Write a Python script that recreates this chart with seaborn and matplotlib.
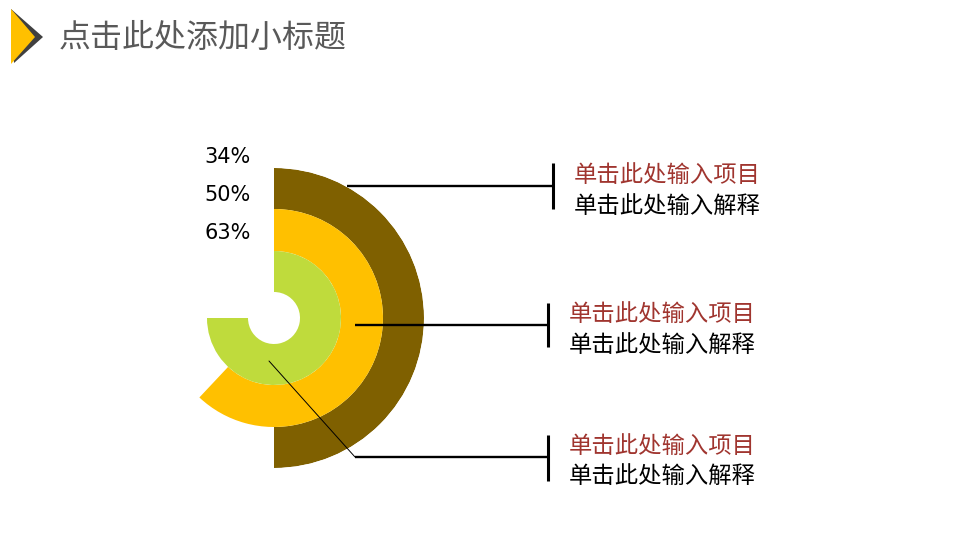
import numpy as np
import matplotlib
matplotlib.use("Agg")
import matplotlib.pyplot as plt
import seaborn as sns

# ring data, outer ring first
ring_names = ["外环", "中环", "内环"]
ring_share = [0.50, 0.62, 0.75]          # share of the full circle covered by each arc
ring_inner = [109, 67, 26]
ring_outer = [150, 109, 67]
ring_colors = ["#7F6000", "#FFC000", "#BFDB3C"]

pct_labels = ["34%", "50%", "63%"]
item_titles = ["单击此处输入项目", "单击此处输入项目", "单击此处输入项目"]
item_notes = ["单击此处输入解释", "单击此处输入解释", "单击此处输入解释"]
page_title = "点击此处添加小标题"

sns.set_theme(style="white")
plt.rcParams["font.family"] = ["Noto Sans CJK SC", "DejaVu Sans"]

W, H = 960, 540
fig = plt.figure(figsize=(W / 100, H / 100), dpi=100)
fig.patch.set_facecolor("white")

# polar axes for the rings, centre at (274, 318) px, radius 150 px
cx, cy, R = 274, 318, 150
ax = fig.add_axes([(cx - R) / W, (H - cy - R) / H, 2 * R / W, 2 * R / H],
                  projection="polar")
ax.set_theta_zero_location("N")
ax.set_theta_direction(-1)
for share, r0, r1, col in zip(ring_share, ring_inner, ring_outer, ring_colors):
    span = share * 2 * np.pi
    ax.bar(span / 2, r1 - r0, width=span, bottom=r0, color=col,
           edgecolor="none", align="center")
ax.set_ylim(0, R)
ax.set_axis_off()

# overlay in pixel coordinates for the decorations
ov = fig.add_axes([0, 0, 1, 1], zorder=5)
ov.set_xlim(0, W)
ov.set_ylim(H, 0)
ov.set_axis_off()
ov.patch.set_alpha(0)

# title icon
ov.fill([11, 43, 14], [9, 37, 63], color="#404040", lw=0)
ov.fill([11, 35, 11], [9, 37, 64], color="#FFC000", lw=0)
ov.text(59, 38, page_title, fontsize=23, color="#595959", va="center", ha="left")

# percentage labels
for lbl, y in zip(pct_labels, [157, 195, 233]):
    ov.text(251, y, lbl, fontsize=15, color="black", ha="right", va="center",
            family="DejaVu Sans")

# callouts
starts = [(347, 186), (355, 325), (355, 457)]
bars = [(553, 163, 209), (548, 303, 347), (548, 435, 481)]
text_x = [574, 569, 569]
text_y = [(175, 206), (314, 345), (446, 476)]
for (sx, sy), (bx, b0, b1), tx, (ty1, ty2), t, n in zip(
        starts, bars, text_x, text_y, item_titles, item_notes):
    ov.plot([sx, bx], [sy, sy], color="black", lw=1.7, solid_capstyle="butt")
    ov.plot([bx, bx], [b0, b1], color="black", lw=2.2, solid_capstyle="butt")
    ov.text(tx, ty1, t, fontsize=16.8, color="#A0352F", ha="left", va="center")
    ov.text(tx, ty2, n, fontsize=16.8, color="black", ha="left", va="center")

# thin leader from inner ring to bottom callout
ov.plot([269, 355], [361, 457], color="black", lw=0.7)

fig.savefig("out.png", dpi=100)
